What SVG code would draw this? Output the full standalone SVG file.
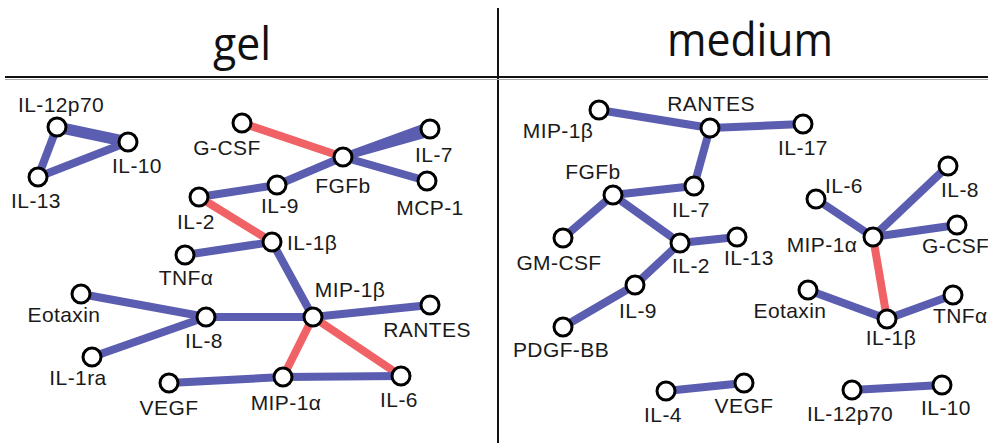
<svg xmlns="http://www.w3.org/2000/svg" width="988" height="443" viewBox="0 0 988 443">
  <style>
    .title { font-family: "Open Sans", "Noto Sans", sans-serif; font-size: 46px; fill: #111; text-anchor: middle; }
    .lbl { font-family: "Liberation Sans", Arial, sans-serif; font-size: 21px; fill: #1a1a1a; text-anchor: middle; letter-spacing: 0.4px; }
    .lbl.start { text-anchor: start; }
    .node { fill: #fff; stroke: #000; stroke-width: 3; }
    .pos { stroke: #5a5db0; stroke-width: 8; }
    .neg { stroke: #f06266; stroke-width: 8; }
    .thick { stroke-width: 11; }
    .rule { stroke: #111; stroke-width: 2; }
  </style>
  <rect width="988" height="443" fill="#fff"/>

  <!-- panel frame -->
  <g id="frame">
    <line class="rule" x1="498" y1="8" x2="498" y2="443"/>
    <line class="rule" x1="5" y1="77" x2="988" y2="77"/>
    <line x1="5" y1="79.5" x2="988" y2="79.5" stroke="#aaa" stroke-width="1"/>
    <text class="title" x="242" y="60" textLength="58" lengthAdjust="spacingAndGlyphs">gel</text>
    <text class="title" x="750" y="56" textLength="166" lengthAdjust="spacingAndGlyphs">medium</text>
  </g>

  <!-- connectors -->
  <g id="connectors" stroke-linecap="butt">
    <!-- gel -->
    <line class="pos thick" x1="57" y1="127" x2="128" y2="142"/>
    <line class="pos" x1="57" y1="127" x2="38" y2="177"/>
    <line class="pos" x1="38" y1="177" x2="128" y2="142"/>
    <line class="neg" x1="242" y1="123" x2="343" y2="157"/>
    <polygon fill="#5a5db0" points="343,153 428,122 432,136 343,161"/>
    <line class="pos" x1="343" y1="157" x2="427" y2="181"/>
    <line class="pos" x1="343" y1="157" x2="277" y2="185"/>
    <line class="pos" x1="277" y1="185" x2="199" y2="197"/>
    <line class="neg" x1="199" y1="197" x2="272" y2="242"/>
    <line class="pos" x1="185" y1="255" x2="272" y2="242"/>
    <line class="pos" x1="272" y1="242" x2="313" y2="317"/>
    <line class="pos" x1="81" y1="294" x2="206" y2="317"/>
    <line class="pos" x1="92" y1="357" x2="206" y2="317"/>
    <line class="pos" x1="206" y1="317" x2="313" y2="317"/>
    <line class="pos" x1="313" y1="317" x2="430" y2="305"/>
    <line class="neg" x1="313" y1="317" x2="283" y2="377"/>
    <line class="neg" x1="313" y1="317" x2="401" y2="376"/>
    <line class="pos" x1="169" y1="383" x2="283" y2="377"/>
    <line class="pos" x1="283" y1="377" x2="401" y2="376"/>
    <!-- medium -->
    <line class="pos" x1="599" y1="110" x2="710" y2="128"/>
    <line class="pos" x1="710" y1="128" x2="803" y2="124"/>
    <line class="pos" x1="710" y1="128" x2="694" y2="186"/>
    <line class="pos" x1="694" y1="186" x2="613" y2="195"/>
    <line class="pos" x1="613" y1="195" x2="563" y2="238"/>
    <line class="pos" x1="613" y1="195" x2="680" y2="243"/>
    <line class="pos" x1="680" y1="243" x2="737" y2="237"/>
    <line class="pos" x1="680" y1="243" x2="635" y2="285"/>
    <line class="pos" x1="635" y1="285" x2="563" y2="327"/>
    <line class="pos" x1="666" y1="391" x2="744" y2="383"/>
    <line class="pos" x1="816" y1="199" x2="873" y2="237"/>
    <line class="pos" x1="873" y1="237" x2="948" y2="166"/>
    <line class="pos" x1="873" y1="237" x2="957" y2="225"/>
    <line class="neg" x1="873" y1="237" x2="887" y2="319"/>
    <line class="pos" x1="808" y1="290" x2="887" y2="319"/>
    <line class="pos" x1="887" y1="319" x2="953" y2="295"/>
    <line class="pos" x1="852" y1="390" x2="942" y2="385"/>
  </g>

  <!-- gel nodes -->
  <g id="gel-il12p70"><circle class="node" cx="57" cy="127" r="9"/><text class="lbl" x="61" y="112">IL-12p70</text></g>
  <g id="gel-il10"><circle class="node" cx="128" cy="142" r="9"/><text class="lbl" x="137" y="173">IL-10</text></g>
  <g id="gel-il13"><circle class="node" cx="38" cy="177" r="9"/><text class="lbl" x="36" y="208">IL-13</text></g>
  <g id="gel-gcsf"><circle class="node" cx="242" cy="123" r="9"/><text class="lbl" x="227" y="155">G-CSF</text></g>
  <g id="gel-fgfb"><circle class="node" cx="343" cy="157" r="9"/><text class="lbl" x="343" y="193">FGFb</text></g>
  <g id="gel-il7"><circle class="node" cx="430" cy="129" r="9"/><text class="lbl" x="434" y="162">IL-7</text></g>
  <g id="gel-mcp1"><circle class="node" cx="427" cy="181" r="9"/><text class="lbl" x="430" y="215">MCP-1</text></g>
  <g id="gel-il9"><circle class="node" cx="277" cy="185" r="9"/><text class="lbl" x="280" y="213">IL-9</text></g>
  <g id="gel-il2"><circle class="node" cx="199" cy="197" r="9"/><text class="lbl" x="196" y="229">IL-2</text></g>
  <g id="gel-il1b"><circle class="node" cx="272" cy="242" r="9"/><text class="lbl start" x="287" y="250">IL-1β</text></g>
  <g id="gel-tnfa"><circle class="node" cx="185" cy="255" r="9"/><text class="lbl" x="186" y="285">TNFα</text></g>
  <g id="gel-eotaxin"><circle class="node" cx="81" cy="294" r="9"/><text class="lbl" x="64" y="322">Eotaxin</text></g>
  <g id="gel-il8"><circle class="node" cx="206" cy="317" r="9"/><text class="lbl" x="204" y="348">IL-8</text></g>
  <g id="gel-il1ra"><circle class="node" cx="92" cy="357" r="9"/><text class="lbl" x="78" y="385">IL-1ra</text></g>
  <g id="gel-vegf"><circle class="node" cx="169" cy="383" r="9"/><text class="lbl" x="169" y="415">VEGF</text></g>
  <g id="gel-mip1b"><circle class="node" cx="313" cy="317" r="9"/><text class="lbl" x="350" y="297">MIP-1β</text></g>
  <g id="gel-rantes"><circle class="node" cx="430" cy="305" r="9"/><text class="lbl" x="427" y="337">RANTES</text></g>
  <g id="gel-mip1a"><circle class="node" cx="283" cy="377" r="9"/><text class="lbl" x="286" y="410">MIP-1α</text></g>
  <g id="gel-il6"><circle class="node" cx="401" cy="376" r="9"/><text class="lbl" x="399" y="407">IL-6</text></g>

  <!-- medium nodes -->
  <g id="med-mip1b"><circle class="node" cx="599" cy="110" r="9"/><text class="lbl" x="558" y="138">MIP-1β</text></g>
  <g id="med-rantes"><circle class="node" cx="710" cy="128" r="9"/><text class="lbl" x="711" y="111">RANTES</text></g>
  <g id="med-il17"><circle class="node" cx="803" cy="124" r="9"/><text class="lbl" x="803" y="155">IL-17</text></g>
  <g id="med-fgfb"><circle class="node" cx="613" cy="195" r="9"/><text class="lbl" x="593" y="179">FGFb</text></g>
  <g id="med-il7"><circle class="node" cx="694" cy="186" r="9"/><text class="lbl" x="691" y="217">IL-7</text></g>
  <g id="med-gmcsf"><circle class="node" cx="563" cy="238" r="9"/><text class="lbl" x="559" y="270">GM-CSF</text></g>
  <g id="med-il2"><circle class="node" cx="680" cy="243" r="9"/><text class="lbl" x="691" y="273">IL-2</text></g>
  <g id="med-il13"><circle class="node" cx="737" cy="237" r="9"/><text class="lbl" x="749" y="265">IL-13</text></g>
  <g id="med-il9"><circle class="node" cx="635" cy="285" r="9"/><text class="lbl" x="638" y="318">IL-9</text></g>
  <g id="med-pdgfbb"><circle class="node" cx="563" cy="327" r="9"/><text class="lbl" x="561" y="357">PDGF-BB</text></g>
  <g id="med-il4"><circle class="node" cx="666" cy="391" r="9"/><text class="lbl" x="663" y="422">IL-4</text></g>
  <g id="med-vegf"><circle class="node" cx="744" cy="383" r="9"/><text class="lbl" x="744" y="413">VEGF</text></g>
  <g id="med-il6"><circle class="node" cx="816" cy="199" r="9"/><text class="lbl" x="844" y="193">IL-6</text></g>
  <g id="med-il8"><circle class="node" cx="948" cy="166" r="9"/><text class="lbl" x="960" y="197">IL-8</text></g>
  <g id="med-mip1a"><circle class="node" cx="873" cy="237" r="9"/><text class="lbl" x="822" y="252">MIP-1α</text></g>
  <g id="med-gcsf"><circle class="node" cx="957" cy="225" r="9"/><text class="lbl start" x="922" y="253">G-CSF</text></g>
  <g id="med-eotaxin"><circle class="node" cx="808" cy="290" r="9"/><text class="lbl" x="790" y="318">Eotaxin</text></g>
  <g id="med-il1b"><circle class="node" cx="887" cy="319" r="9"/><text class="lbl" x="891" y="345">IL-1β</text></g>
  <g id="med-tnfa"><circle class="node" cx="953" cy="295" r="9"/><text class="lbl start" x="933" y="323">TNFα</text></g>
  <g id="med-il12p70"><circle class="node" cx="852" cy="390" r="9"/><text class="lbl" x="850" y="421">IL-12p70</text></g>
  <g id="med-il10"><circle class="node" cx="942" cy="385" r="9"/><text class="lbl" x="946" y="415">IL-10</text></g>
</svg>
